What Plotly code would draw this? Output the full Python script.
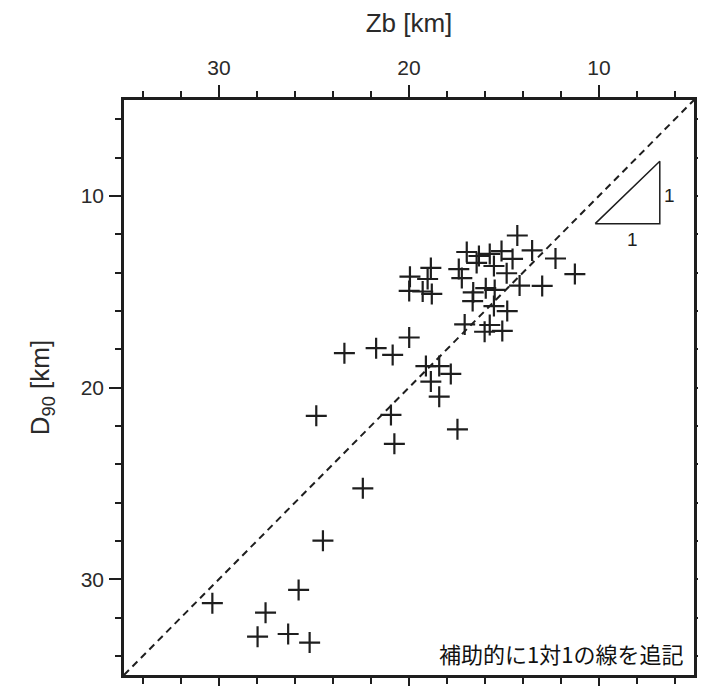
import plotly.graph_objects as go

# Data (Zb [km], D90 [km])
zb = [14.30, 13.52, 12.29, 11.27, 16.96, 16.32, 15.75, 15.13, 14.55, 15.53,
      16.44, 17.38, 17.22, 14.86, 14.18, 12.99, 16.62, 16.65, 15.96, 15.49,
      15.53, 14.83, 17.07, 16.02, 15.75, 15.09, 19.95, 18.85, 19.02, 19.99,
      19.28, 18.80, 19.99,
      23.40, 21.73, 20.86, 19.11, 18.41, 17.80, 18.85, 18.41, 24.88, 20.95,
      17.45, 20.77,
      22.43, 24.53, 25.81, 30.35, 27.55, 27.97, 26.36, 25.23]
d90 = [12.07, 12.85, 13.27, 14.08, 12.93, 13.14, 13.03, 12.88, 13.29, 13.66,
       13.50, 13.82, 14.29, 14.04, 14.68, 14.70, 15.04, 15.49, 14.82, 14.91,
       15.75, 16.01, 16.71, 17.09, 16.74, 17.05, 14.22, 13.76, 14.34, 14.96,
       14.99, 15.12, 17.39,
       18.21, 17.95, 18.30, 18.88, 18.88, 19.29, 19.69, 20.48, 21.48, 21.43,
       22.18, 22.94,
       25.26, 27.99, 30.56, 31.25, 31.75, 33.00, 32.86, 33.31]

axis_range = [35, 5]
tick_vals = [10, 20, 30]
tick_text = ["10", "20", "30"]

# 1:1 slope triangle (annotation)
tri_x = [10.2, 6.8, 6.8, 10.2]
tri_y = [11.45, 11.45, 8.2, 11.45]

note_text = "補助的に1対1の線を追記"

ink = "#1e1e1e"
txt = "#2a2a2a"
sans = "Liberation Sans, Arial, sans-serif"

fig = go.Figure()

# 1:1 dashed line across the full axis range
fig.add_trace(go.Scatter(
    x=axis_range, y=axis_range, mode="lines",
    line=dict(color=ink, width=2, dash="7px,5px"),
    hoverinfo="skip", showlegend=False))

fig.add_trace(go.Scatter(
    x=zb, y=d90, mode="markers",
    marker=dict(symbol="cross-thin", size=15, color=ink,
                line=dict(width=2.2, color=ink)),
    showlegend=False))

fig.add_trace(go.Scatter(
    x=tri_x, y=tri_y, mode="lines",
    line=dict(color=ink, width=1.5),
    hoverinfo="skip", showlegend=False))

common = dict(
    range=axis_range, tickvals=tick_vals, ticktext=tick_text,
    ticks="outside", ticklen=12, tickwidth=1.5, tickcolor=ink,
    showline=True, linewidth=2.5, linecolor=ink, mirror="ticks",
    showgrid=False, zeroline=False, automargin=False,
    tickfont=dict(family=sans, size=21, color=txt),
    minor=dict(dtick=2, tick0=0, ticks="outside", ticklen=6, tickwidth=1.5, tickcolor=ink),
)

fig.update_xaxes(side="top", ticklabelstandoff=2,
                 title=dict(text="Zb [km]", standoff=18,
                            font=dict(family=sans, size=26, color=txt)),
                 **common)
fig.update_yaxes(ticklabelstandoff=1,
                 title=dict(text="D<sub>90</sub> [km]", standoff=24,
                            font=dict(family=sans, size=26, color=txt)),
                 **common)

fig.add_annotation(x=6.28, y=9.97, text="1", showarrow=False,
                   font=dict(family=sans, size=19, color=ink))
fig.add_annotation(x=8.26, y=12.3, text="1", showarrow=False,
                   font=dict(family=sans, size=19, color=ink))
fig.add_annotation(xref="paper", yref="paper", x=0.985, y=0.038,
                   xanchor="right", yanchor="middle", text=note_text, showarrow=False,
                   font=dict(family="Noto Sans CJK JP", size=22, color="#111"))

# the page body adds an 8px offset, so margins are reduced by 8
fig.update_layout(
    width=706, height=686,
    margin=dict(l=116, r=20, t=92, b=19),
    plot_bgcolor="white", paper_bgcolor="white",
)

fig.write_html("out.html")
